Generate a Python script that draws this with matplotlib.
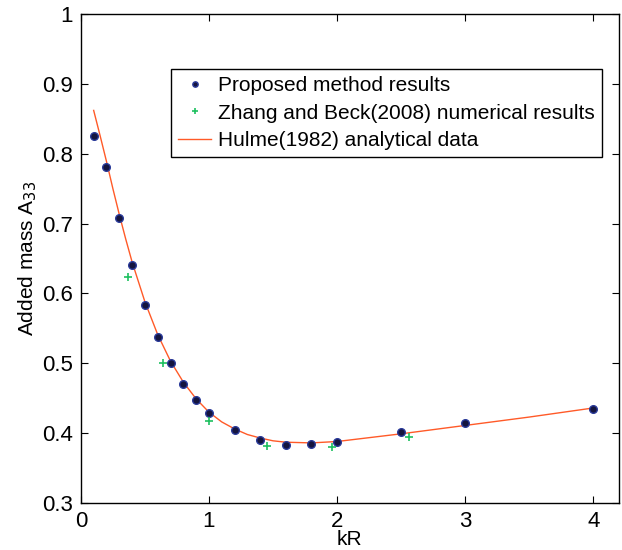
import matplotlib.pyplot as plt

plt.rcParams['font.family'] = ['Liberation Sans', 'DejaVu Sans']

# Proposed method results
kr_prop = [0.1, 0.2, 0.3, 0.4, 0.5, 0.6, 0.7, 0.8, 0.9, 1.0, 1.2, 1.4, 1.6, 1.8, 2.0, 2.5, 3.0, 4.0]
a33_prop = [0.825, 0.781, 0.708, 0.641, 0.584, 0.537, 0.500, 0.471, 0.447, 0.429,
            0.405, 0.390, 0.383, 0.384, 0.388, 0.402, 0.414, 0.435]

# Zhang and Beck (2008)
kr_zb = [0.37, 0.64, 1.0, 1.45, 1.96, 2.56]
a33_zb = [0.623, 0.501, 0.417, 0.382, 0.380, 0.394]

# Hulme (1982)
kr_h = [0.1, 0.15, 0.2, 0.25, 0.3, 0.35, 0.4, 0.5, 0.6, 0.7, 0.8, 0.9, 1.0, 1.1, 1.2, 1.3,
        1.4, 1.5, 1.6, 1.8, 2.0, 2.5, 3.0, 3.5, 4.0]
a33_h = [0.862, 0.826, 0.789, 0.750, 0.713, 0.678, 0.645, 0.588, 0.541, 0.503, 0.473, 0.449,
         0.430, 0.416, 0.406, 0.398, 0.393, 0.389, 0.387, 0.386, 0.388, 0.399, 0.411, 0.423, 0.436]


def main():
    fig = plt.figure(figsize=(6.22, 5.5), dpi=100)
    ax = fig.add_axes([0.130, 0.0855, 0.865, 0.889])

    ax.plot(kr_prop, a33_prop, 'o', color='#15153f', markeredgecolor='#2a3a9a',
            markersize=5.5, label='Proposed method results', zorder=3)
    ax.plot(kr_zb, a33_zb, '+', color='#1ec060', markersize=6, markeredgewidth=1.2,
            label='Zhang and Beck(2008) numerical results', zorder=3)
    ax.plot(kr_h, a33_h, '-', color='#ff5a28', linewidth=1.0,
            label='Hulme(1982) analytical data', zorder=2)

    ax.set_xlim(0, 4.2)
    ax.set_ylim(0.3, 1.0)
    ax.set_xticks([0, 1, 2, 3, 4])
    ax.set_yticks([0.3, 0.4, 0.5, 0.6, 0.7, 0.8, 0.9, 1.0])
    ax.set_yticklabels(['0.3', '0.4', '0.5', '0.6', '0.7', '0.8', '0.9', '1'])
    ax.tick_params(direction='in', top=True, right=True, labelsize=16, length=5, pad=6)
    for s in ax.spines.values():
        s.set_linewidth(1.0)

    ax.set_xlabel('kR', fontsize=15, labelpad=-2)
    ax.set_ylabel('Added mass A$_{33}$', fontsize=15, labelpad=2)

    leg = ax.legend(loc='upper left', bbox_to_anchor=(0.167, 0.8875), borderaxespad=0,
                    fontsize=15, frameon=True, fancybox=False, edgecolor='black',
                    framealpha=1, handlelength=1.6, handletextpad=0.3, borderpad=0.35,
                    labelspacing=0.4, markerscale=0.7)
    leg.get_frame().set_linewidth(1.0)

    fig.savefig('out.png', dpi=100)


if __name__ == '__main__':
    main()
